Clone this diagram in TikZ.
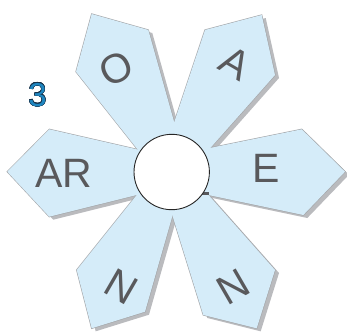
\documentclass[tikz,border=0pt]{standalone}
\usepackage{fontspec}
\setmainfont{Liberation Sans}
\usepackage{contour}
\contourlength{0.45pt}
\definecolor{petalblue}{HTML}{D5ECF9}
\definecolor{petalshadow}{HTML}{BABBBE}
\definecolor{petaledge}{HTML}{A3A6A9}
\definecolor{lettergray}{HTML}{59595C}
\definecolor{stepblue}{HTML}{1F86C0}
\definecolor{stepedge}{HTML}{17324A}

% Petal outlines (pixel frame, y pointing down).
\newcommand{\petalO}{(154.9,171.3) -- (76,71.7) -- (91.7,14) -- (148.3,30) -- (183,153.5) -- (171.7,171.7) -- cycle}
\newcommand{\petalA}{(163.8,153.5) -- (205,30) -- (261.7,15) -- (275,75) -- (190.5,170.3) -- (171.7,171.7) -- cycle}
\newcommand{\petalE}{(180.3,154) -- (301.7,129.3) -- (345,171.7) -- (303.3,215) -- (179.8,189) -- (171.7,171.7) -- cycle}
\newcommand{\petalAR}{(162.9,155.3) -- (49.3,129.3) -- (7.3,171.7) -- (49.3,216.7) -- (162.9,188.5) -- (171.7,171.7) -- cycle}
\newcommand{\petalNl}{(154.7,172.5) -- (76.7,270) -- (91.7,328.3) -- (145,311.7) -- (179.7,190.3) -- (171.7,171.7) -- cycle}
\newcommand{\petalNr}{(164.3,189.3) -- (203.3,315) -- (256.7,328.3) -- (275,270) -- (190.5,174.7) -- (171.7,171.7) -- cycle}

\begin{document}
\begin{tikzpicture}[
  x=1pt,
  y=-1pt,
  petalcast/.style={fill=petalshadow,shift={(4,3)}},
  petalrim/.style={draw=petaledge,line width=1.2pt},
  letter/.style={text=lettergray,inner sep=0pt,font=\fontsize{41}{41}\selectfont}
]
  \useasboundingbox (0,0) rectangle (347,333);

  % Drop shadows of the six petals.
  \fill[petalcast] \petalO;
  \fill[petalcast] \petalA;
  \fill[petalcast] \petalE;
  \fill[petalcast] \petalAR;
  \fill[petalcast] \petalNl;
  \fill[petalcast] \petalNr;

  % Thin rims first, then the fills, so rims stay only on the outside.
  \path[petalrim] \petalO;
  \path[petalrim] \petalA;
  \path[petalrim] \petalE;
  \path[petalrim] \petalAR;
  \path[petalrim] \petalNl;
  \path[petalrim] \petalNr;

  \fill[petalblue] \petalO;
  \fill[petalblue] \petalA;
  \fill[petalblue] \petalE;
  \fill[petalblue] \petalAR;
  \fill[petalblue] \petalNl;
  \fill[petalblue] \petalNr;

  % Small dark mark by the hub.
  \fill[lettergray] (200,191.5) rectangle (208.5,194.5);

  % Hub.
  \node[circle,draw=black!85,line width=0.9pt,fill=white,inner sep=0pt,minimum size=75.4pt] (hub) at (171.7,172) {};

  % Petal letters.
  \node[letter,rotate=27] (lblO) at (116.7,68.3) {O};
  \node[letter,rotate=-30] (lblA) at (235,63.3) {A};
  \node[letter] (lblE) at (266,168.3) {E};
  \node[letter] (lblAR) at (64,173.3) {AR};
  \node[letter,rotate=-30] (lblNl) at (121.7,286.7) {N};
  \node[letter,rotate=30] (lblNr) at (233.3,286.7) {N};

  % Step number.
  \node[inner sep=0pt,font=\fontsize{33}{33}\selectfont] (stepNo) at (37.5,95) {\contour{stepedge}{\textcolor{stepblue}{3}}};
\end{tikzpicture}
\end{document}
